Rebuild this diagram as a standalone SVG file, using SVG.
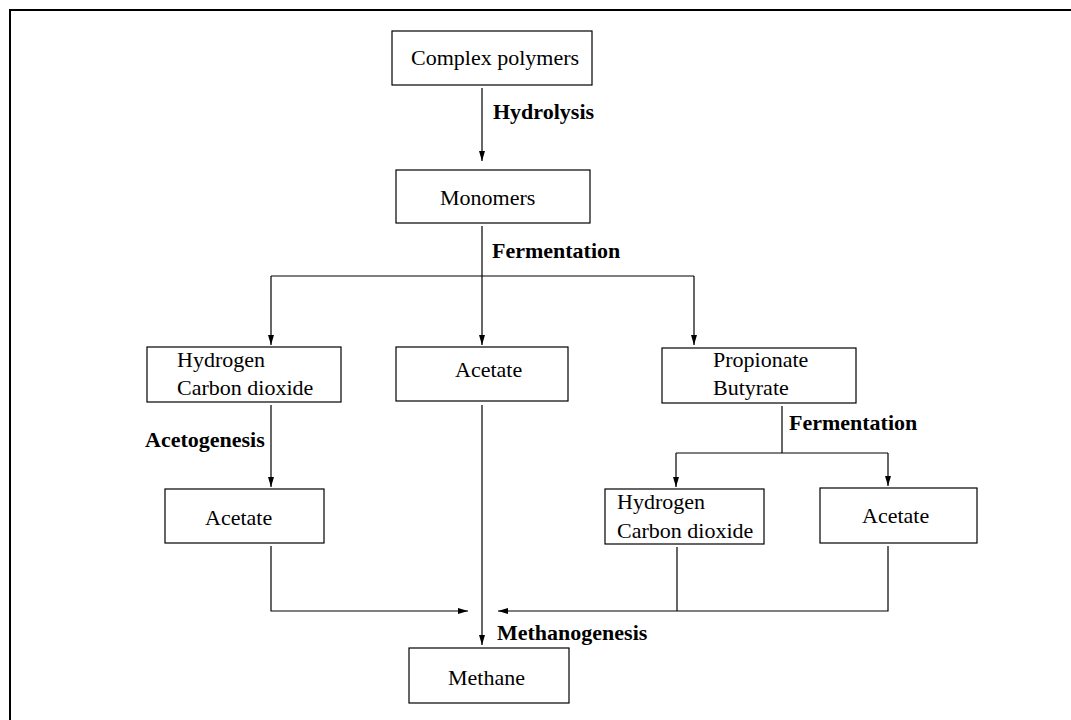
<svg xmlns="http://www.w3.org/2000/svg" width="1071" height="720" viewBox="0 0 1071 720">
<defs>
<style>
.box{fill:#fff;stroke:#000;stroke-width:1.2}
.t{font-family:"Liberation Serif","Times New Roman",serif;font-size:22px;fill:#000}
.b{font-family:"Liberation Serif","Times New Roman",serif;font-size:22px;font-weight:bold;fill:#000}
.c{fill:none;stroke:#000;stroke-width:1.2}
</style>
<marker id="ah" markerUnits="userSpaceOnUse" markerWidth="10" markerHeight="7" refX="10" refY="3.5" orient="auto">
<path d="M0,0.5 L10,3.5 L0,6.5 z" fill="#000"/>
</marker>
</defs>
<rect width="1071" height="720" fill="#fff"/>
<path d="M10,720 V10 H1071" fill="none" stroke="#000" stroke-width="2"/>

<g id="connectors">
<path class="c" d="M482,88 V161" marker-end="url(#ah)"/>
<path class="c" d="M482,226 V345" marker-end="url(#ah)"/>
<path class="c" d="M271,276 H694"/>
<path class="c" d="M271,276 V345" marker-end="url(#ah)"/>
<path class="c" d="M694,276 V345" marker-end="url(#ah)"/>
<path class="c" d="M271,405 V487" marker-end="url(#ah)"/>
<path class="c" d="M482,405 V645" marker-end="url(#ah)"/>
<path class="c" d="M271,546 V611 H468" marker-end="url(#ah)"/>
<path class="c" d="M782,406 V453"/>
<path class="c" d="M676,453 H888"/>
<path class="c" d="M676,453 V487" marker-end="url(#ah)"/>
<path class="c" d="M888,453 V486" marker-end="url(#ah)"/>
<path class="c" d="M677,547 V611"/>
<path class="c" d="M888,546 V611 H498" marker-end="url(#ah)"/>
<text class="b" x="493" y="119">Hydrolysis</text>
<text class="b" x="492" y="258">Fermentation</text>
<text class="b" x="145" y="447">Acetogenesis</text>
<text class="b" x="789" y="430">Fermentation</text>
<text class="b" x="497" y="640">Methanogenesis</text>
</g>

<g id="complex-polymers">
<rect class="box" x="392" y="31" width="200" height="54"/>
<text class="t" x="411" y="65">Complex polymers</text>
</g>
<g id="monomers">
<rect class="box" x="396" y="170" width="194" height="53"/>
<text class="t" x="440" y="205">Monomers</text>
</g>
<g id="hydrogen-co2-1">
<rect class="box" x="147" y="347" width="194" height="55"/>
<text class="t" x="177" y="367">Hydrogen</text>
<text class="t" x="177" y="395">Carbon dioxide</text>
</g>
<g id="acetate-middle">
<rect class="box" x="396" y="347" width="172" height="54"/>
<text class="t" x="455" y="377">Acetate</text>
</g>
<g id="propionate-butyrate">
<rect class="box" x="662" y="348" width="194" height="55"/>
<text class="t" x="713" y="367">Propionate</text>
<text class="t" x="713" y="395">Butyrate</text>
</g>
<g id="acetate-left">
<rect class="box" x="165" y="489" width="159" height="54"/>
<text class="t" x="205" y="525">Acetate</text>
</g>
<g id="hydrogen-co2-2">
<rect class="box" x="605" y="489" width="159" height="55"/>
<text class="t" x="617" y="509">Hydrogen</text>
<text class="t" x="617" y="538">Carbon dioxide</text>
</g>
<g id="acetate-right">
<rect class="box" x="820" y="488" width="157" height="55"/>
<text class="t" x="862" y="523">Acetate</text>
</g>
<g id="methane">
<rect class="box" x="409" y="648" width="160" height="55"/>
<text class="t" x="448" y="685">Methane</text>
</g>
</svg>
